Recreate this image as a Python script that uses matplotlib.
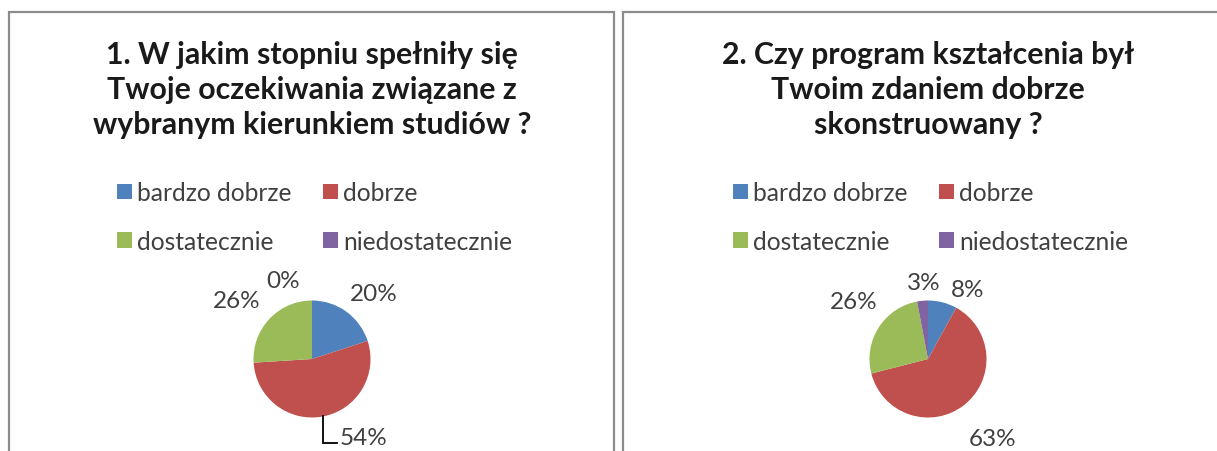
import matplotlib
matplotlib.use("Agg")
import matplotlib.pyplot as plt
from matplotlib.patches import Rectangle
import numpy as np

# Survey answers (percent of respondents)
categories = ["bardzo dobrze", "dobrze", "dostatecznie", "niedostatecznie"]
q1_title = "1. W jakim stopniu spełniły się\nTwoje oczekiwania związane z\nwybranym kierunkiem studiów ?"
q1_values = [20, 54, 26, 0]
q2_title = "2. Czy program kształcenia był\nTwoim zdaniem dobrze\nskonstruowany ?"
q2_values = [8, 63, 26, 3]

colors = ["#4F81BD", "#C0504D", "#9BBB59", "#8064A2"]
TEXT = "#404040"

W, H = 1217, 452
fig = plt.figure(figsize=(W / 100, H / 100), dpi=100)
fig.patch.set_facecolor("white")
plt.rcParams["font.family"] = ["Lato", "DejaVu Sans"]


def fx(px):
    return px / W


def fy(py):
    return 1 - py / H


# chart frames (open at the bottom / right where the sheet was cut)
for x0, x1 in [(8.5, 614), (623, 1240)]:
    fig.patches.append(Rectangle((fx(x0), -0.2), fx(x1 - x0), fy(12.5) + 0.2,
                                 transform=fig.transFigure, fill=False,
                                 edgecolor="#8c8c8c", linewidth=1.6))

R = 58.5      # pie radius in pixels
LIM = 2.2     # axis half-range in pie radii


def draw_panel(cx, cy, title, values, label_nudges, leader=None):
    fig.text(fx(cx), fy(90), title, ha="center", va="center",
             fontsize=21.8, fontweight="bold", color="#1a1a1a",
             linespacing=1.32)
    size = 2 * LIM * R
    ax = fig.add_axes([fx(cx - size / 2), fy(cy + size / 2), fx(size), size / H])
    wedges, _ = ax.pie(values, colors=colors, startangle=90,
                       counterclock=False, radius=1,
                       wedgeprops=dict(linewidth=0))
    ax.set_xlim(-LIM, LIM)
    ax.set_ylim(-LIM, LIM)
    ax.set_aspect("equal")
    ax.axis("off")

    total = float(sum(values))
    start = 0.0
    for i, v in enumerate(values):
        mid = np.deg2rad(start + 360 * v / total / 2)
        start += 360 * v / total
        nx, ny = label_nudges[i]
        x = 1.45 * np.sin(mid) + nx
        y = 1.45 * np.cos(mid) + ny
        ax.text(x, y, f"{v}%", ha="center", va="center", fontsize=17.5,
                color=TEXT)
        if leader is not None and leader[0] == i:
            ex, ey = np.sin(mid), np.cos(mid)
            ax.plot([ex, ex, leader[1]], [ey, leader[2], leader[2]],
                    color="black", linewidth=1.3, solid_joinstyle="miter")

    # two entries per row: reorder for matplotlib's column-major fill
    order = [0, 2, 1, 3]
    leg = ax.legend([wedges[k] for k in order], [categories[k] for k in order],
                    ncol=2, frameon=False,
                    loc="center", bbox_to_anchor=(fx(cx + 2.5), fy(218)),
                    bbox_transform=fig.transFigure, fontsize=17.7,
                    handlelength=0.6, handleheight=0.6, handletextpad=0.2,
                    columnspacing=1.3, labelspacing=1.03, borderpad=0)
    for t in leg.get_texts():
        t.set_color(TEXT)


draw_panel(312, 360, q1_title, q1_values,
           [(0.20, -0.05), (0.61, 0.08), (-0.23, 0.01), (-0.5, -0.11)],
           leader=(1, 0.43, -1.43))
draw_panel(928, 360, q2_title, q2_values,
           [(0.32, -0.21), (0.21, -0.21), (-0.05, 0.20), (0.06, -0.13)])

fig.savefig("out.png", dpi=100, facecolor="white")
